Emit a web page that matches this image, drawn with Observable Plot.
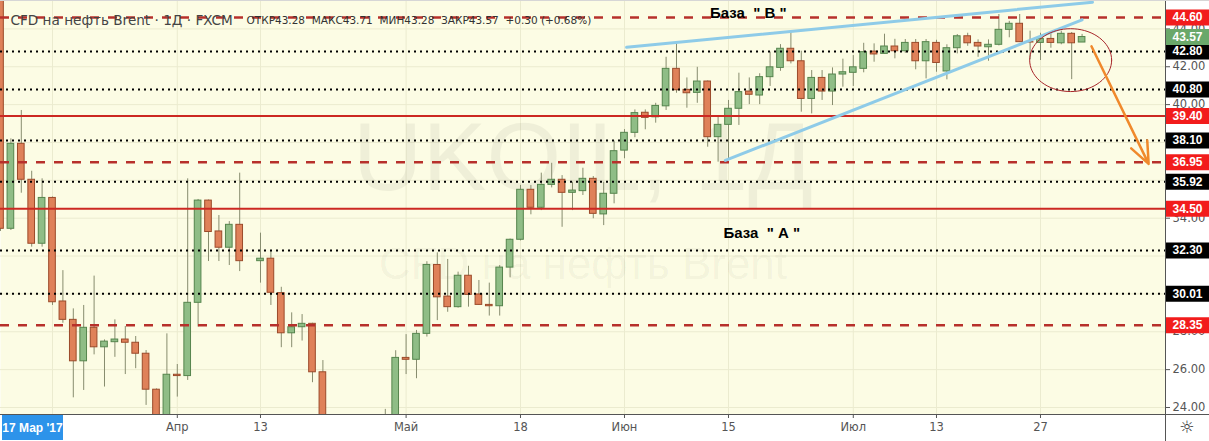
<!DOCTYPE html>
<html>
<head>
<meta charset="utf-8">
<script src="https://cdn.jsdelivr.net/npm/d3@7"></script>
<script src="https://cdn.jsdelivr.net/npm/@observablehq/plot@0.6"></script>
<style>
  html, body { margin: 0; padding: 0; background: #ffffff; }
  #chart { width: 1209px; height: 441px; }
</style>
</head>
<body>
<div id="chart"></div>
<script>
// Brent CFD, daily bars (index -1 is the partly visible first bar)
const firstIndex = -1;
const open  = [45.60, 33.44, 37.93, 36.03, 32.65, 35.07, 29.60, 28.63, 26.44, 28.21, 27.18, 27.45, 27.59, 27.42, 26.84, 24.94, 22.90, 25.73, 25.66, 29.53, 34.93, 33.30, 32.44, 33.65, 31.75, 31.73, 31.86, 30.04, 27.92, 28.24, 28.42, 25.86, 20.10, 20.90, 21.70, 21.50, 20.00, 20.60, 22.60, 26.62, 26.52, 27.89, 31.53, 29.86, 29.30, 30.96, 29.97, 29.42, 29.35, 31.39, 32.86, 35.50, 34.55, 35.76, 36.03, 35.34, 35.43, 36.08, 34.20, 35.29, 37.57, 38.51, 39.57, 39.33, 39.91, 41.89, 40.78, 40.62, 41.22, 38.28, 38.93, 39.78, 40.69, 40.48, 41.45, 41.94, 42.95, 42.29, 40.30, 41.41, 40.69, 41.59, 41.68, 41.89, 42.80, 42.68, 43.07, 42.82, 43.26, 42.29, 43.26, 41.75, 42.98, 43.61, 43.26, 43.03, 43.16, 43.95, 44.27, 43.30, 43.26, 43.47, 43.24, 43.74, 43.28];
const high  = [45.90, 38.19, 39.69, 36.48, 36.08, 35.12, 31.23, 29.21, 29.39, 30.94, 27.57, 28.63, 28.28, 27.75, 27.01, 24.98, 27.89, 26.27, 36.08, 34.99, 34.96, 34.14, 33.82, 36.38, 31.75, 33.21, 32.25, 30.35, 29.00, 28.91, 28.45, 26.48, 21.80, 22.40, 22.20, 21.70, 21.30, 23.90, 27.00, 27.85, 28.07, 31.70, 32.17, 31.82, 31.15, 31.46, 30.71, 30.57, 31.50, 32.90, 35.73, 35.73, 36.38, 36.90, 36.25, 35.90, 36.64, 36.20, 35.90, 38.07, 38.68, 39.72, 39.72, 40.07, 42.50, 43.24, 41.41, 41.97, 41.25, 39.42, 40.22, 41.66, 41.41, 41.63, 42.77, 43.17, 43.83, 42.82, 41.80, 41.80, 41.94, 42.40, 42.59, 43.24, 43.21, 43.72, 43.45, 43.44, 43.44, 43.44, 43.40, 43.16, 43.70, 43.77, 43.42, 43.42, 44.76, 44.40, 44.76, 43.88, 43.77, 43.77, 43.88, 43.81, 43.71];
const low   = [33.30, 33.35, 35.32, 32.47, 32.47, 29.39, 28.45, 24.51, 24.90, 26.78, 25.08, 26.65, 25.74, 26.05, 24.11, 22.40, 22.60, 24.55, 25.43, 28.25, 31.71, 31.71, 31.50, 31.18, 31.75, 30.57, 29.39, 27.16, 27.16, 27.51, 25.31, 19.20, 18.60, 20.20, 20.80, 19.60, 19.40, 20.10, 22.30, 25.74, 25.52, 27.72, 28.59, 29.03, 29.25, 29.30, 29.40, 28.83, 28.83, 30.85, 32.80, 34.18, 34.40, 35.60, 33.52, 34.40, 35.20, 33.97, 33.61, 34.76, 37.14, 38.25, 38.67, 39.02, 39.69, 40.60, 39.81, 40.07, 37.75, 36.96, 37.14, 38.90, 40.00, 40.00, 40.96, 41.76, 42.15, 39.60, 39.51, 40.22, 39.95, 40.92, 40.96, 41.68, 42.24, 42.68, 42.42, 42.71, 41.84, 41.36, 41.71, 41.31, 42.68, 43.08, 42.50, 42.29, 43.10, 43.53, 43.28, 42.37, 42.33, 42.98, 43.16, 41.32, 43.28];
const close = [33.44, 37.93, 36.03, 32.65, 35.07, 29.56, 28.63, 26.44, 28.21, 27.18, 27.48, 27.59, 27.42, 26.84, 24.94, 22.90, 25.73, 25.66, 29.53, 34.93, 33.27, 32.44, 33.65, 31.73, 31.75, 31.86, 30.06, 27.92, 28.24, 28.42, 25.86, 20.10, 20.90, 21.70, 21.50, 20.00, 20.60, 22.60, 26.62, 26.52, 27.89, 31.53, 29.82, 29.30, 30.96, 29.95, 29.42, 29.35, 31.39, 32.86, 35.50, 34.55, 35.76, 36.03, 35.34, 35.46, 36.08, 34.23, 35.29, 37.54, 38.51, 39.55, 39.30, 39.93, 41.89, 40.76, 40.60, 41.22, 38.28, 38.93, 39.78, 40.66, 40.52, 41.45, 41.97, 42.95, 42.29, 40.30, 41.41, 40.69, 41.59, 41.71, 41.97, 42.77, 42.65, 43.07, 42.82, 43.26, 42.29, 43.30, 42.20, 42.98, 43.61, 43.24, 43.07, 43.16, 43.95, 44.27, 43.30, 43.28, 43.47, 43.26, 43.74, 43.24, 43.57];

// Time axis: bar index of each labelled date
const xTickIdx    = [16, 24, 38, 49, 59, 69, 81, 89, 99];
const xTickLabels = ["Апр", "13", "Май", "18", "Июн", "15", "Июл", "13", "27"];
const xGridIdx    = [4, 16, 24, 38, 49, 59, 69, 81, 89, 99];
// Price scale: grid every 2.00, labels where the price tags leave room
const yGrid       = [24, 26, 28, 30, 32, 34, 36, 38, 40, 42, 44];
const yTicks      = [24, 26, 28, 34, 40, 42, 44];

// Horizontal support / resistance levels
const solidLevels  = [39.40, 34.50];
const dashedLevels = [44.60, 36.95, 28.35];
const dottedLevels = [42.80, 40.80, 38.10, 35.92, 32.30, 30.01];

// Drawn annotations (bar index, price)
const channelTop    = [{i: 59.2, v: 43.03}, {i: 104.0, v: 45.41}];
const channelBottom = [{i: 68.7, v: 37.05}, {i: 103.0, v: 44.48}];
const forecast      = [{i1: 103.9, v1: 43.08, i2: 109.4, v2: 36.87}];
const ringCenter    = {i: 101.9, v: 42.35, ri: 3.94, rv: 1.66};
const notes = [
  {i: 70.9, v: 44.84, t: "База  \" В \""},
  {i: 72.2, v: 33.19, t: "База  \" А \""}
];

const title  = "CFD на нефть Brent · 1Д · FXCM";
const ohlcText = "ОТКР43.28  МАКС43.71  МИН43.28  ЗАКР43.57  +0.30 (+0.68%)";
const crossDate = "17 Мар '17";

// ---- derived tables ----
const bars = open.map((o, k) => ({i: k + firstIndex, o, h: high[k], l: low[k], c: close[k]}));
const upBars = bars.filter(d => d.c >= d.o);
const downBars = bars.filter(d => d.c < d.o);
const labelOf = new Map(xTickIdx.map((d, k) => [d, xTickLabels[k]]));
const ring = d3.range(0, 361, 5).map(a => ({
  i: ringCenter.i + ringCenter.ri * Math.cos(a * Math.PI / 180),
  v: ringCenter.v + ringCenter.rv * Math.sin(a * Math.PI / 180)
}));
const lastClose = close[close.length - 1];
const priceTags = [
  ...solidLevels.map(v => ({v, bg: "#f21c1c"})),
  ...dashedLevels.map(v => ({v, bg: "#f21c1c"})),
  ...dottedLevels.map(v => ({v, bg: "#000000"})),
  {v: lastClose, bg: "#6aa86a"}
];

const X_MIN = -1, X_MAX = 111.02, X_EDGE = 115.4;
const Y_MIN = 23.63, Y_MAX = 45.5;
const BG = "#fcfce4";
const GRID = "#ebebcf";

const chart = Plot.plot({
  width: 1209,
  height: 441,
  marginLeft: 0,
  marginRight: 44,
  marginTop: 0,
  marginBottom: 27,
  style: {background: "#ffffff", fontFamily: "DejaVu Sans, sans-serif", overflow: "visible"},
  x: {type: "linear", domain: [X_MIN, X_MAX]},
  y: {type: "linear", domain: [Y_MIN, Y_MAX]},
  marks: [
    Plot.frame({fill: BG, stroke: null}),
    Plot.gridX(xGridIdx, {stroke: GRID, strokeOpacity: 1}),
    Plot.gridY(yGrid, {stroke: GRID, strokeOpacity: 1}),

    // watermark
    Plot.text(["UKOIL, 1Д"], {frameAnchor: "middle", dy: -48, fontSize: 96, fill: "#000", fillOpacity: 0.05, fontFamily: "Liberation Sans, sans-serif"}),
    Plot.text(["CFD на нефть Brent"], {frameAnchor: "middle", dy: 57, fontSize: 44, fill: "#000", fillOpacity: 0.05, fontFamily: "Liberation Sans, sans-serif"}),

    // candles
    Plot.ruleX(bars, {x: "i", y1: "l", y2: "h", stroke: "#878c6e", strokeWidth: 1, clip: true}),
    Plot.rect(upBars, {x1: d => d.i - 0.32, x2: d => d.i + 0.32, y1: "o", y2: "c", fill: "#8fbd86", stroke: "#55854d", strokeWidth: 1, clip: true}),
    Plot.rect(downBars, {x1: d => d.i - 0.32, x2: d => d.i + 0.32, y1: "c", y2: "o", fill: "#df8159", stroke: "#9b4a2a", strokeWidth: 1, clip: true}),

    // levels
    Plot.ruleY(solidLevels, {stroke: "#cc2822", strokeWidth: 2}),
    Plot.ruleY(dashedLevels, {stroke: "#b7302b", strokeWidth: 2.5, strokeDasharray: "9,9"}),
    Plot.ruleY(dottedLevels, {stroke: "#000000", strokeWidth: 2, strokeDasharray: "2,4"}),

    // channel lines, target ring and forecast arrow
    Plot.line(channelTop, {x: "i", y: "v", stroke: "#8ecbe8", strokeWidth: 3, clip: true}),
    Plot.line(channelBottom, {x: "i", y: "v", stroke: "#8ecbe8", strokeWidth: 3, clip: true}),
    Plot.line(ring, {x: "i", y: "v", stroke: "#a8262a", strokeWidth: 1}),
    Plot.arrow(forecast, {x1: "i1", y1: "v1", x2: "i2", y2: "v2", stroke: "#f0892c", strokeWidth: 2.5, headLength: 14, headAngle: 45}),

    Plot.text(notes, {x: "i", y: "v", text: "t", fontSize: 15, fontWeight: "bold", fill: "#000", fontFamily: "Liberation Sans, sans-serif"}),

    // header
    Plot.text([title], {frameAnchor: "top-left", dx: 10, dy: 20, lineAnchor: "middle", textAnchor: "start", fontSize: 13.6, fill: "#444"}),
    Plot.text([ohlcText], {frameAnchor: "top-left", dx: 246, dy: 20, lineAnchor: "middle", textAnchor: "start", fontSize: 10.5, fill: "#333"}),

    // axes
    Plot.axisY(yTicks, {anchor: "right", tickSize: 4, tickPadding: 3, tickFormat: d => d.toFixed(2), fontSize: 11.5, color: "#555", label: null}),
    Plot.axisX(xTickIdx, {anchor: "bottom", tickSize: 4, tickPadding: 4, tickFormat: d => labelOf.get(d), fontSize: 11.5, color: "#555", label: null}),

    // price tags on the right scale
    Plot.ruleY(priceTags, {y: "v", x1: X_MAX, x2: X_EDGE, stroke: "bg", strokeWidth: 16}),
    Plot.text(priceTags, {x: X_MAX, y: "v", text: d => d.v.toFixed(2), textAnchor: "start", dx: 7, fill: "#fff", fontWeight: "bold", fontSize: 12, fontFamily: "Liberation Sans, sans-serif"})
  ]
});

document.getElementById("chart").appendChild(chart);

// chart chrome: pane borders, crosshair date label, settings glyph
const xs = chart.scale("x"), ys = chart.scale("y");
const svg = d3.select(chart);
const paneRight = xs.apply(X_MAX), paneBottom = ys.apply(Y_MIN);
svg.append("line").attr("x1", 0).attr("x2", 1209).attr("y1", paneBottom + 0.5).attr("y2", paneBottom + 0.5).attr("stroke", "#555");
svg.append("line").attr("x1", paneRight + 0.5).attr("x2", paneRight + 0.5).attr("y1", 0).attr("y2", 441).attr("stroke", "#555");
svg.append("line").attr("x1", 0).attr("x2", 1209).attr("y1", 0.5).attr("y2", 0.5).attr("stroke", "#d6d6d6");
const tag = svg.append("g").attr("transform", `translate(2,${paneBottom + 1})`);
tag.append("rect").attr("width", 61).attr("height", 25).attr("fill", "#2d93ea");
tag.append("text").attr("x", 30.5).attr("y", 13).attr("dy", "0.35em").attr("text-anchor", "middle")
  .attr("fill", "#fff").attr("font-weight", "bold").attr("font-size", 12).attr("font-family", "Liberation Sans, sans-serif").text(crossDate);
svg.append("text").attr("x", (paneRight + 1209) / 2).attr("y", (paneBottom + 441) / 2).attr("dy", "0.35em")
  .attr("text-anchor", "middle").attr("font-size", 17).attr("fill", "#333").text("☼");
</script>
</body>
</html>
